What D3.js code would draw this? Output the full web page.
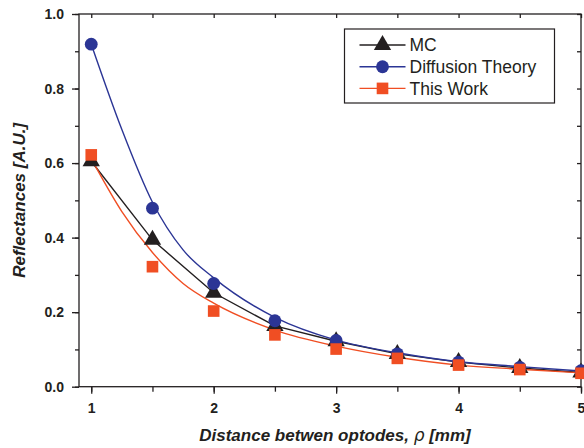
<!DOCTYPE html>
<html>
<head>
<meta charset="utf-8">
<script src="https://cdn.jsdelivr.net/npm/d3@7"></script>
<style>
  body { margin: 0; background: #fff; }
  svg { font-family: "Liberation Sans", Arial, sans-serif; }
</style>
</head>
<body>
<div id="chart"></div>
<script>
// measured points
const distances = [1, 1.5, 2, 2.5, 3, 3.5, 4, 4.5, 5];
const mcValues = [0.605, 0.394, 0.252, 0.163, 0.122, 0.088, 0.066, 0.050, 0.038];
const diffusionValues = [0.919, 0.479, 0.277, 0.177, 0.124, 0.088, 0.066, 0.052, 0.043];
const thisWorkValues = [0.622, 0.322, 0.203, 0.139, 0.101, 0.076, 0.058, 0.046, 0.036];

// fitted curves
const fitDistances = [1, 1.25, 1.5, 1.75, 2, 2.5, 3, 3.5, 4, 4.5, 5];
const diffusionFit = [0.919, 0.69, 0.495, 0.367, 0.292, 0.186, 0.125, 0.091, 0.067, 0.054, 0.042];
const thisWorkFit = [0.612, 0.47, 0.36, 0.277, 0.224, 0.152, 0.109, 0.079, 0.058, 0.047, 0.037];

const xTicks = [1, 2, 3, 4, 5];
const yTicks = [0, 0.2, 0.4, 0.6, 0.8, 1.0];

const width = 584;
const height = 448;
const margin = { top: 14, right: 3, bottom: 61.3, left: 79 };
const axisColor = '#231f20';

const svg = d3.select('#chart')
    .append('svg')
    .attr('width', width)
    .attr('height', height);

const chartWidth = width - margin.left - margin.right;
const chartHeight = height - margin.top - margin.bottom;

const chart = svg.append('g')
    .attr('transform', `translate(${margin.left},${margin.top})`);

const xScale = d3.scaleLinear().domain([0.9, 5]).range([0, chartWidth]);
const yScale = d3.scaleLinear().domain([0, 1]).range([chartHeight, 0]);

const minorX = d3.range(1, 5.01, 0.5);
const minorY = d3.range(0, 1.001, 0.1);

// axes
const styleAxis = g => {
    g.select('.domain').remove();
    g.selectAll('line').attr('stroke', axisColor).attr('stroke-width', 1.3);
    g.selectAll('text').attr('fill', axisColor);
};

// bottom
chart.append('g')
    .attr('transform', `translate(0,${chartHeight})`)
    .call(d3.axisBottom(xScale).tickValues(minorX).tickSize(5).tickFormat(''))
    .call(styleAxis);
chart.append('g')
    .attr('transform', `translate(0,${chartHeight})`)
    .call(d3.axisBottom(xScale).tickValues(xTicks).tickSize(7).tickPadding(9).tickFormat(d3.format('d')))
    .call(styleAxis)
    .selectAll('text')
    .style('font-size', '14px')
    .style('font-weight', 'bold');

// left
chart.append('g')
    .call(d3.axisLeft(yScale).tickValues(minorY).tickSize(4).tickFormat(''))
    .call(styleAxis);
chart.append('g')
    .call(d3.axisLeft(yScale).tickValues(yTicks).tickSize(7).tickPadding(8).tickFormat(d3.format('.1f')))
    .call(styleAxis)
    .selectAll('text')
    .style('font-size', '14px')
    .style('font-weight', 'bold');

// top and right, inward ticks
chart.append('g')
    .call(d3.axisBottom(xScale).tickValues(minorX).tickSize(4).tickFormat(''))
    .call(styleAxis);
chart.append('g')
    .attr('transform', `translate(${chartWidth},0)`)
    .call(d3.axisLeft(yScale).tickValues(minorY).tickSize(4).tickFormat(''))
    .call(styleAxis);

// frame
chart.append('rect')
    .attr('width', chartWidth)
    .attr('height', chartHeight)
    .attr('fill', 'none')
    .attr('stroke', axisColor)
    .attr('stroke-width', 1.3);

const series = [
    { name: 'MC', color: '#231f20', shape: d3.symbolTriangle, size: 130,
      pts: mcValues, lx: distances, ly: mcValues, curve: d3.curveLinear },
    { name: 'Diffusion Theory', color: '#2b3595', shape: d3.symbolCircle, size: 130,
      pts: diffusionValues, lx: fitDistances, ly: diffusionFit, curve: d3.curveMonotoneX },
    { name: 'This Work', color: '#f04e23', shape: d3.symbolSquare, size: 135,
      pts: thisWorkValues, lx: fitDistances, ly: thisWorkFit, curve: d3.curveMonotoneX }
];

series.forEach(s => {
    const line = d3.line()
        .x((d, i) => xScale(s.lx[i]))
        .y(d => yScale(d))
        .curve(s.curve);
    chart.append('path')
        .datum(s.ly)
        .attr('d', line)
        .attr('fill', 'none')
        .attr('stroke', s.color)
        .attr('stroke-width', 1.4);
});

series.forEach(s => {
    chart.selectAll(null)
        .data(s.pts)
        .enter()
        .append('path')
        .attr('d', d3.symbol().type(s.shape).size(s.size))
        .attr('transform', (d, i) => `translate(${xScale(distances[i])},${yScale(d)})`)
        .attr('fill', s.color);
});

// legend
const legend = svg.append('g').attr('transform', 'translate(344.5,29)');
legend.append('rect')
    .attr('width', 210)
    .attr('height', 74)
    .attr('fill', '#fff')
    .attr('stroke', axisColor)
    .attr('stroke-width', 1.2);
series.forEach((s, i) => {
    const y = 16 + i * 21.7;
    legend.append('line')
        .attr('x1', 15).attr('x2', 61)
        .attr('y1', y).attr('y2', y)
        .attr('stroke', s.color)
        .attr('stroke-width', 1.4);
    legend.append('path')
        .attr('d', d3.symbol().type(s.shape).size(s.size))
        .attr('transform', `translate(38,${y})`)
        .attr('fill', s.color);
    legend.append('text')
        .attr('x', 65)
        .attr('y', y)
        .attr('dy', '0.36em')
        .attr('fill', axisColor)
        .style('font-size', '17.5px')
        .text(s.name);
});

// axis titles
svg.append('text')
    .attr('transform', `translate(25,${margin.top + chartHeight / 2}) rotate(-90)`)
    .attr('text-anchor', 'middle')
    .attr('fill', axisColor)
    .style('font-size', '17px')
    .style('font-weight', 'bold')
    .style('font-style', 'italic')
    .text('Reflectances [A.U.]');

const xTitle = svg.append('text')
    .attr('x', 335)
    .attr('y', 441)
    .attr('text-anchor', 'middle')
    .attr('fill', axisColor)
    .style('font-size', '17px')
    .style('font-weight', 'bold')
    .style('font-style', 'italic');
xTitle.append('tspan').text('Distance betwen optodes, ');
xTitle.append('tspan').style('font-weight', 'normal').style('font-family', '"DejaVu Sans", sans-serif').text('ρ');
xTitle.append('tspan').text(' [mm]');
</script>
</body>
</html>
